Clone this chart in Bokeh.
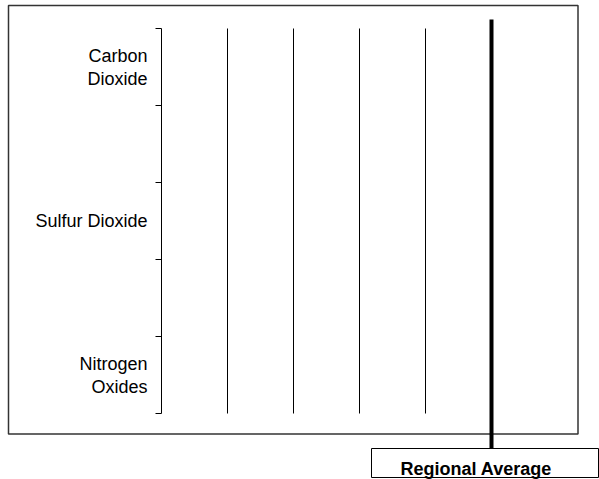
from math import pi
from bokeh.plotting import figure
from bokeh.models import Range1d, ColumnDataSource
from bokeh.core.properties import value
from bokeh.embed import file_html
from bokeh.resources import INLINE

# ---- data ----
categories = ["Carbon Dioxide", "Sulfur Dioxide", "Nitrogen Oxides"]
tick_labels = ["Carbon\nDioxide", "Sulfur Dioxide", "Nitrogen\nOxides"]
category_slots = [0.5, 2.5, 4.5]
slot_boundaries = [0, 1, 2, 3, 4, 5]
grid_values = [20, 40, 60, 80]
regional_average = [100]
average_label = ["Regional Average"]

# ---- layout (canvas pixels) ----
W, H = 599, 479
AXIS_X = 161.0
PX_PER_VAL = 3.30
SLOT_TOP = 28.0
PX_PER_SLOT = 77.0
FONT = value("Liberation Sans")

p = figure(width=W, height=H, output_backend="svg", toolbar_location=None,
           x_range=Range1d(0, W), y_range=Range1d(H, 0),
           x_axis_type=None, y_axis_type=None, min_border=0,
           outline_line_color=None, background_fill_color="white",
           border_fill_color="white")

p.extra_x_ranges = {"val": Range1d((0 - AXIS_X) / PX_PER_VAL, (W - AXIS_X) / PX_PER_VAL)}
p.extra_y_ranges = {"cat": Range1d((H - SLOT_TOP) / PX_PER_SLOT, (0 - SLOT_TOP) / PX_PER_SLOT)}

# outer frame
p.quad(left=[8], right=[577.5], top=[5], bottom=[433.5], fill_color=None,
       line_color="#333333", line_width=1.5)

# gridlines
grid_src = ColumnDataSource(dict(x=grid_values,
                                 y0=[slot_boundaries[0]] * len(grid_values),
                                 y1=[slot_boundaries[-1]] * len(grid_values)))
p.segment(x0="x", y0="y0", x1="x", y1="y1", source=grid_src,
          x_range_name="val", y_range_name="cat", line_color="black", line_width=1)

# y axis line and ticks
p.segment(x0=[0], y0=[slot_boundaries[0]], x1=[0], y1=[slot_boundaries[-1]],
          x_range_name="val", y_range_name="cat", line_color="black", line_width=1)
p.ray(x=[0] * len(slot_boundaries), y=slot_boundaries, length=6, length_units="screen",
      angle=pi, x_range_name="val", y_range_name="cat", line_color="black", line_width=1)

# category labels
p.text(x=[0] * len(tick_labels), y=category_slots, text=tick_labels, x_offset=-14,
       text_align="right", text_baseline="middle", text_line_height=1.15,
       text_font=FONT, text_font_size="18px", text_color="black",
       x_range_name="val", y_range_name="cat")

# regional average line
p.segment(x0=regional_average, y0=[19], x1=regional_average, y1=[448],
          x_range_name="val", line_color="black", line_width=4)

# regional average label box
p.quad(left=[371], right=[598], top=[448], bottom=[477], fill_color="white",
       line_color="black", line_width=1)
p.text(x=[400], y=[468], text=average_label, text_align="left",
       text_baseline="alphabetic", text_font=FONT, text_font_size="18px",
       text_font_style="bold", text_color="black")

open("out.html", "w").write(file_html(p, INLINE))
